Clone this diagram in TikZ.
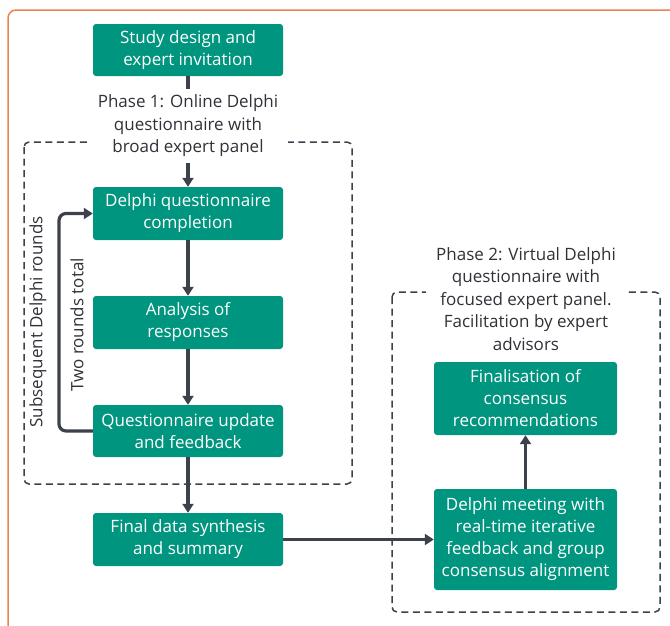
\documentclass[tikz,border=0pt]{standalone}
\usepackage{fontspec}
\setmainfont{Open Sans}
\usetikzlibrary{arrows.meta,positioning,calc}
\definecolor{teal1}{HTML}{00957F}
\definecolor{dgray}{HTML}{3D414B}
\definecolor{txtgray}{HTML}{2F3238}
\definecolor{frameor}{HTML}{E8834F}
\begin{document}
\begin{tikzpicture}[x=1pt,y=-1pt,
  box/.style={fill=teal1, rounded corners=3pt, text=white, align=center, font=\fontsize{17}{22}\selectfont, inner sep=0pt},
  lbl/.style={text=txtgray, align=center, font=\fontsize{17}{22.5}\selectfont, fill=white, inner ysep=1pt, inner xsep=10pt},
  arr/.style={draw=dgray, line width=3.2pt, -{Triangle[length=9pt,width=11pt]}},
  ln/.style={draw=dgray, line width=3.2pt},
  dbox/.style={draw=dgray, line width=1.5pt, dash pattern=on 7pt off 4.5pt, rounded corners=5pt}]
\useasboundingbox (0,0) rectangle (670,625);
\draw[frameor, line width=1.5pt, rounded corners=8pt] (8,10) rectangle (690,645);
% dashed boxes
\draw[dbox] (24,142) rectangle (352,484);
\draw[dbox] (392,292) rectangle (660,612);
% boxes
\node[box, minimum width=190pt, minimum height=52pt] (s1) at (188,50) {Study design and\\expert invitation};
\node[lbl] (p1) at (188,126) {Phase 1: Online Delphi\\questionnaire with\\broad expert panel};
\node[box, minimum width=190pt, minimum height=53pt] (q1) at (188,213.5) {Delphi questionnaire\\completion};
\node[box, minimum width=190pt, minimum height=53pt] (an) at (188,322.5) {Analysis of\\responses};
\node[box, minimum width=190pt, minimum height=52pt] (qu) at (188,431) {Questionnaire update\\and feedback};
\node[box, minimum width=190pt, minimum height=53pt] (fd) at (188,539.5) {Final data synthesis\\and summary};
\node[lbl] (p2) at (526,299) {Phase 2: Virtual Delphi\\questionnaire with\\focused expert panel.\\Facilitation by expert\\advisors};
\node[box, minimum width=183pt, minimum height=73pt] (fi) at (525.5,398.5) {Finalisation of\\consensus\\recommendations};
\node[box, minimum width=183pt, minimum height=101pt] (dm) at (525.5,539.5) {Delphi meeting with\\real-time iterative\\feedback and group\\consensus alignment};
% connectors
\coordinate (p1a) at (188,89);
\draw[ln] (s1.south) -- (p1a);
\coordinate (p1b) at (188,163);
\draw[arr] (p1b) -- (q1.north);
\draw[arr] (q1) -- (an);
\draw[arr] (an) -- (qu);
\draw[arr] (qu) -- (fd);
\draw[arr] (fd.east) -- (dm.west);
\draw[arr] (dm) -- (fi);
\coordinate (lb) at (59,431);
\coordinate (lt) at (59,213.5);
\draw[arr, rounded corners=7pt] (qu.west) -- (lb) -- (lt) -- (q1.west);
\node[text=txtgray, rotate=90, font=\fontsize{17}{20}\selectfont] (sdr) at (38,322) {Subsequent Delphi rounds};
\node[text=txtgray, rotate=90, font=\fontsize{17}{20}\selectfont] (trt) at (77,325) {Two rounds total};
\end{tikzpicture}
\end{document}
